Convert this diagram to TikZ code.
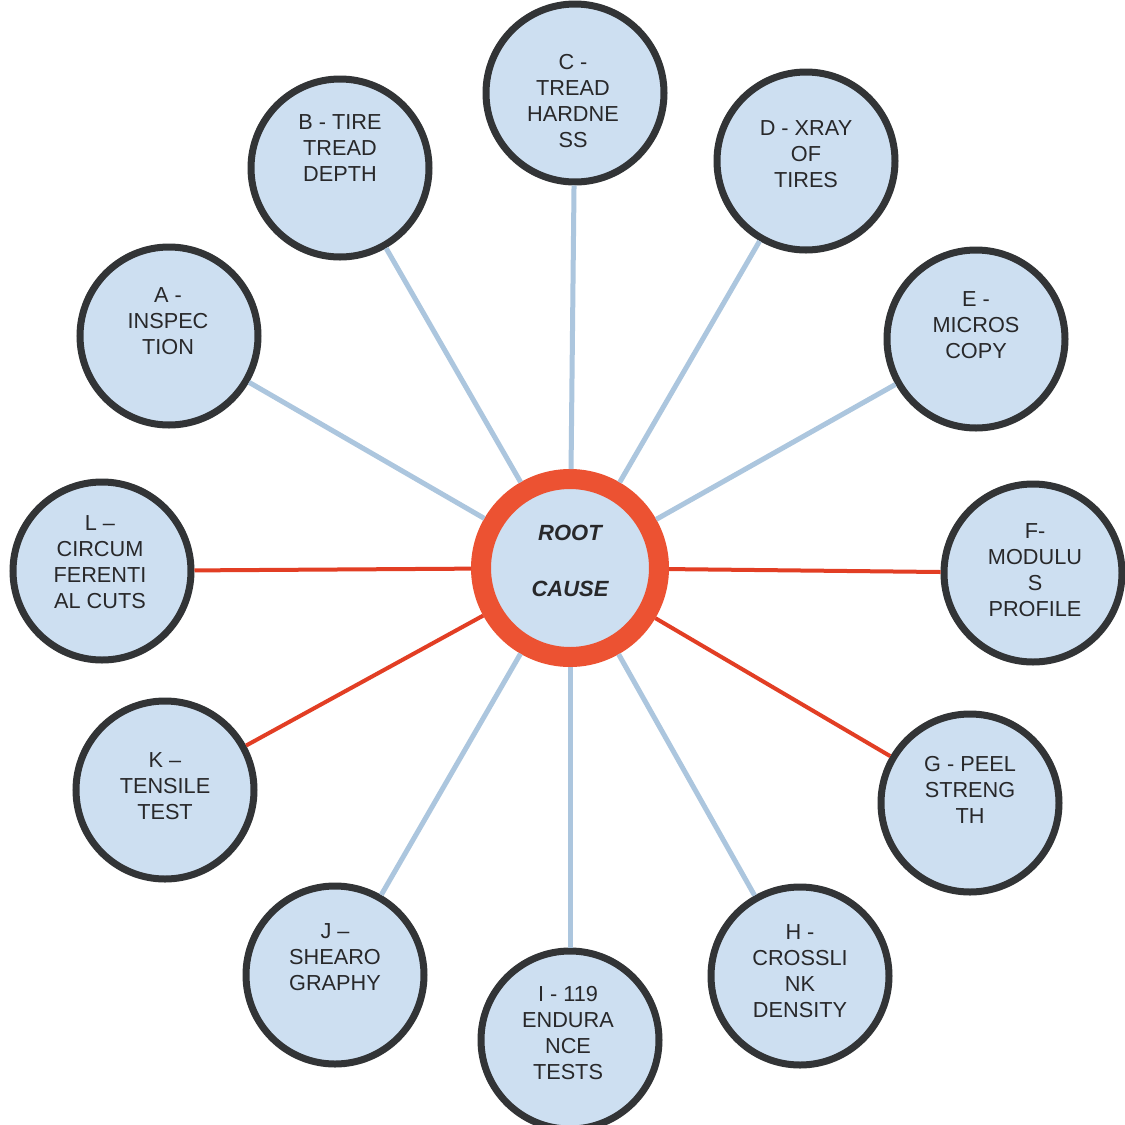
\documentclass[tikz,border=0pt]{standalone}
\usepackage{fontspec}
\setmainfont{Liberation Sans}
\definecolor{leaffill}{RGB}{205,223,241}
\definecolor{leafborder}{RGB}{50,52,54}
\definecolor{bluelink}{RGB}{172,198,222}
\definecolor{redlink}{RGB}{226,62,36}
\definecolor{ringred}{RGB}{236,82,50}
\definecolor{txtgray}{RGB}{40,40,42}
\begin{document}
\begin{tikzpicture}[x=1pt,y=-1pt,
  leaf/.style={circle,draw=leafborder,line width=7pt,fill=leaffill,minimum size=178pt,inner sep=0pt},
  rootnode/.style={circle,draw=ringred,line width=20pt,fill=leaffill,minimum size=178pt,inner sep=0pt},
  lbl/.style={align=center,text=txtgray,font=\fontsize{21.7}{26}\selectfont,inner sep=0pt},
  rootlbl/.style={text=txtgray,font=\fontsize{22}{26}\selectfont\bfseries\itshape,inner sep=0pt},
  bluel/.style={draw=bluelink,line width=5pt},
  redl/.style={draw=redlink,line width=4pt}]
\useasboundingbox[fill=white] (0,0) rectangle (1125,1125);

% circles
\node[rootnode] (root) at (570,568) {};
\node[leaf] (A) at (169,336) {};
\node[leaf] (B) at (340,168) {};
\node[leaf] (C) at (575,93) {};
\node[leaf] (D) at (806,161) {};
\node[leaf] (E) at (976,339) {};
\node[leaf] (F) at (1033,573) {};
\node[leaf] (G) at (970,803) {};
\node[leaf] (H) at (800,976) {};
\node[leaf] (I) at (570,1040) {};
\node[leaf] (J) at (335,975) {};
\node[leaf] (K) at (165,790) {};
\node[leaf] (L) at (102,571) {};

% connectors
\draw[bluel] (root) -- (A);
\draw[bluel] (root) -- (B);
\draw[bluel] (root) -- (C);
\draw[bluel] (root) -- (D);
\draw[bluel] (root) -- (E);
\draw[redl] (root) -- (F);
\draw[redl] (root) -- (G);
\draw[bluel] (root) -- (H);
\draw[bluel] (root) -- (I);
\draw[bluel] (root) -- (J);
\draw[redl] (root) -- (K);
\draw[redl] (root) -- (L);

% labels
\node[rootlbl] (rt1) at (570,533) {ROOT};
\node[rootlbl] (rt2) at (570,589) {CAUSE};
\node[lbl] (At) at (168,321) {A -\\INSPEC\\TION};
\node[lbl] (Bt) at (340,148) {B - TIRE\\TREAD\\DEPTH};
\node[lbl] (Ct) at (573,101) {C -\\TREAD\\HARDNE\\SS};
\node[lbl] (Dt) at (806,154) {D - XRAY\\OF\\TIRES};
\node[lbl] (Et) at (976,325) {E -\\MICROS\\COPY};
\node[lbl] (Ft) at (1035,570) {F-\\MODULU\\S\\PROFILE};
\node[lbl] (Gt) at (970,790) {G - PEEL\\STRENG\\TH};
\node[lbl] (Ht) at (800,971) {H -\\CROSSLI\\NK\\DENSITY};
\node[lbl] (It) at (568,1033) {I - 119\\ENDURA\\NCE\\TESTS};
\node[lbl] (Jt) at (335,957) {J --\\SHEARO\\GRAPHY};
\node[lbl] (Kt) at (165,786) {K --\\TENSILE\\TEST};
\node[lbl] (Lt) at (100,562) {L --\\CIRCUM\\FERENTI\\AL CUTS};
\end{tikzpicture}
\end{document}
